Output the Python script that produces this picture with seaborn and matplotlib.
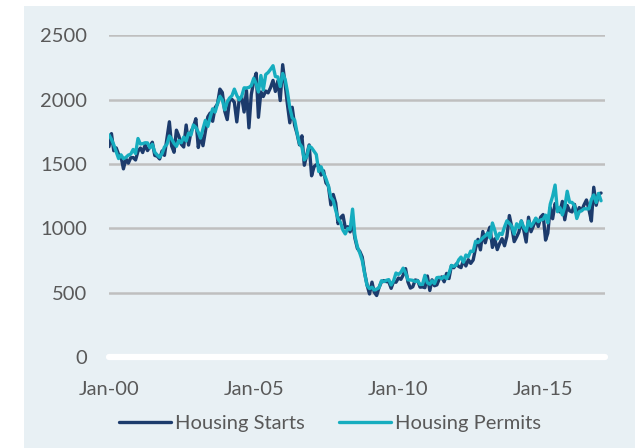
import numpy as np
import pandas as pd
import matplotlib
matplotlib.use("Agg")
import matplotlib.pyplot as plt
from matplotlib.patches import Rectangle
from matplotlib.lines import Line2D
import seaborn as sns

# Monthly, Jan 2000 - Jan 2017 (thousands of units, SAAR)
starts = [
    1636, 1737, 1604, 1626, 1575, 1559, 1463, 1541, 1507, 1549, 1551, 1532,
    1600, 1625, 1590, 1649, 1605, 1636, 1670, 1567, 1562, 1540, 1602, 1568,
    1698, 1829, 1642, 1592, 1764, 1717, 1655, 1633, 1804, 1648, 1753, 1788,
    1853, 1629, 1726, 1643, 1751, 1867, 1897, 1833, 1939, 1967, 2083, 2057,
    1911, 1846, 1998, 2003, 1981, 1828, 2002, 2024, 1905, 2072, 1782, 2042,
    2144, 2207, 1864, 2061, 2025, 2068, 2054, 2095, 2151, 2065, 2147, 1994,
    2273, 2119, 1969, 1821, 1942, 1802, 1737, 1650, 1720, 1491, 1570, 1649,
    1409, 1480, 1495, 1490, 1415, 1448, 1354, 1330, 1183, 1264, 1197, 1037,
    1084, 1103, 1005, 1013, 973, 1046, 923, 844, 820, 777, 652, 560,
    490, 582, 505, 478, 540, 585, 594, 586, 585, 534, 588, 581,
    614, 604, 636, 687, 583, 536, 546, 599, 594, 543, 545, 539,
    630, 517, 600, 554, 561, 608, 623, 585, 650, 610, 711, 694,
    723, 704, 695, 753, 708, 757, 728, 754, 847, 915, 833, 976,
    888, 962, 1010, 852, 919, 835, 883, 920, 865, 938, 1100, 1011,
    897, 934, 971, 1058, 988, 894, 1087, 974, 1021, 1075, 1015, 1088,
    1108, 909, 963, 1162, 1075, 1193, 1155, 1128, 1210, 1067, 1178, 1137,
    1128, 1187, 1103, 1162, 1138, 1184, 1221, 1147, 1057, 1320, 1180, 1268,
    1275,
]
permits = [
    1727, 1692, 1651, 1597, 1543, 1572, 1542, 1552, 1570, 1577, 1614, 1582,
    1699, 1656, 1659, 1666, 1665, 1626, 1654, 1592, 1570, 1553, 1582, 1633,
    1654, 1719, 1695, 1661, 1638, 1684, 1666, 1710, 1680, 1741, 1726, 1804,
    1786, 1748, 1702, 1774, 1840, 1793, 1864, 1930, 1904, 1970, 2027, 2000,
    1922, 1984, 2013, 2032, 2083, 2034, 2000, 2026, 2093, 2092, 2096, 2111,
    2167, 2124, 2061, 2189, 2077, 2197, 2212, 2237, 2265, 2181, 2178, 2103,
    2205, 2159, 2066, 1938, 1860, 1843, 1745, 1660, 1633, 1533, 1558, 1641,
    1627, 1600, 1575, 1442, 1479, 1426, 1387, 1330, 1241, 1217, 1141, 1075,
    1046, 986, 957, 999, 992, 1150, 939, 857, 807, 750, 647, 556,
    532, 543, 521, 528, 539, 593, 586, 596, 602, 560, 593, 653,
    642, 659, 691, 655, 600, 599, 596, 587, 593, 564, 565, 635,
    577, 566, 592, 571, 617, 620, 609, 627, 609, 651, 712, 705,
    715, 756, 777, 737, 793, 780, 823, 821, 900, 890, 906, 927,
    942, 964, 926, 1042, 985, 918, 962, 952, 1012, 1059, 1039, 1017,
    956, 1036, 1007, 1057, 1008, 978, 1057, 1016, 1046, 1080, 1052, 1066,
    1071, 1103, 1043, 1188, 1250, 1337, 1130, 1161, 1105, 1165, 1289, 1204,
    1202, 1177, 1077, 1130, 1138, 1153, 1152, 1152, 1225, 1260, 1201, 1272,
    1215,
]
series_names = ["Housing Starts", "Housing Permits"]
tick_years = [2000, 2005, 2010, 2015]
tick_labels = ["Jan-00", "Jan-05", "Jan-10", "Jan-15"]
y_ticks = [0, 500, 1000, 1500, 2000, 2500]

dates = pd.date_range("2000-01-01", periods=len(starts), freq="MS")
df = pd.DataFrame({
    "date": np.concatenate([dates, dates]),
    "value": starts + permits,
    "series": [series_names[0]] * len(starts) + [series_names[1]] * len(permits),
})

sns.set_style("white")
plt.rcParams["font.family"] = ["Lato", "DejaVu Sans"]

colors = {"Housing Starts": "#1c3b6c", "Housing Permits": "#16adbf"}
bg = "#e8f0f4"
txt = "#595959"

fig = plt.figure(figsize=(6.39, 4.48), dpi=100, facecolor="white")
fig.patches.append(Rectangle((24 / 639, 0), (635 - 24) / 639, (448 - 6) / 448,
                             transform=fig.transFigure, facecolor=bg,
                             edgecolor="none", zorder=-10))
ax = fig.add_axes([109 / 639, 1 - 357 / 448, (605 - 109) / 639, (357 - 35.5) / 448])
ax.set_zorder(5)
ax.set_facecolor("none")
ax.patch.set_alpha(0)

sns.lineplot(data=df, x="date", y="value", hue="series", palette=colors,
             linewidth=2.4, ax=ax, legend=False, zorder=3)

ax.set_ylim(0, 2500)
ax.set_xlim(pd.Timestamp("2000-01-01"), pd.Timestamp("2017-02-20"))
ax.set_yticks(y_ticks)
ax.set_yticklabels([str(v) for v in y_ticks])
ax.set_xticks([pd.Timestamp(f"{y}-01-01") for y in tick_years])
ax.set_xticklabels(tick_labels)

for v in y_ticks[1:]:
    ax.axhline(v, color="#bfbfbf", linewidth=1.8, zorder=1)
ax.axhline(0, color="white", linewidth=4.5, zorder=2, clip_on=False)

for s in ax.spines.values():
    s.set_visible(False)
ax.tick_params(axis="both", length=0, colors=txt, labelsize=14.5)
ax.tick_params(axis="y", pad=16)
ax.tick_params(axis="x", pad=17)
ax.set_xlabel("")
ax.set_ylabel("")
ax.grid(False)

handles = [Line2D([0], [0], color=colors[n], linewidth=2.4) for n in series_names]
leg = fig.legend(handles, series_names, loc="center", ncol=2,
                 bbox_to_anchor=(330 / 639, 1 - 423 / 448), frameon=False,
                 fontsize=14.5, handlelength=2.6, handletextpad=0.2,
                 columnspacing=1.7)
for t in leg.get_texts():
    t.set_color(txt)

fig.savefig("out.png", dpi=100, facecolor="white")
